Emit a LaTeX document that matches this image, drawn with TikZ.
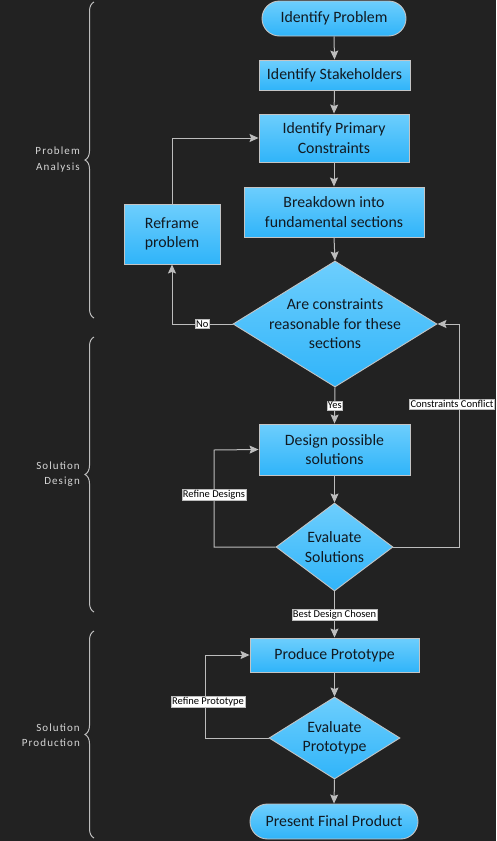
\documentclass[tikz,border=0pt]{standalone}
\usepackage{fontspec}
\setmainfont{Carlito}
\newfontfamily\phasefont[LetterSpace=10]{Carlito}
\usetikzlibrary{arrows.meta,shapes.geometric,shapes.misc,decorations.pathreplacing}

\definecolor{bgdark}{HTML}{222222}
\definecolor{boxtop}{HTML}{6DCEFD}
\definecolor{boxbot}{HTML}{30B4F9}
\definecolor{boxline}{HTML}{C4C4C4}
\definecolor{wire}{HTML}{BDBDBD}
\definecolor{boxtext}{HTML}{111A22}
\definecolor{phasetext}{HTML}{D6D6D6}

\tikzset{
  blockbase/.style={draw=boxline, line width=0.9pt, top color=boxtop, bottom color=boxbot,
    text=boxtext, font=\fontsize{15.8}{19.5}\selectfont, align=center, inner sep=0pt},
  procbox/.style={blockbase, rectangle},
  termbox/.style={blockbase, rounded rectangle},
  % negative inner sep keeps the diamond at its given size around multi-line text
  decbox/.style={blockbase, diamond, inner sep=-30pt},
  flow/.style={draw=wire, line width=1pt, -{Stealth[length=9pt,width=8pt,inset=1.5pt]}},
  elabel/.style={fill=white, draw=wire, line width=0.4pt, text=black, inner sep=1pt,
    font=\fontsize{10.5}{11}\selectfont},
  phasebrace/.style={draw=wire, line width=1pt, decorate,
    decoration={brace, amplitude=9pt}},
  phaselabel/.style={text=phasetext, align=right, anchor=east, inner sep=0pt,
    font=\phasefont\fontsize{11}{15.5}\selectfont},
}

\begin{document}
\begin{tikzpicture}[x=1pt, y=-1pt]
  \fill[bgdark] (0,0) rectangle (496,841);
  \useasboundingbox (0,0) rectangle (496,841);

  % ---- flow blocks ----
  \node[termbox, minimum width=144pt, minimum height=35pt] (ip) at (334,18.5) {Identify Problem};
  \node[procbox, minimum width=151pt, minimum height=30pt] (sh) at (334.5,75) {Identify Stakeholders};
  \node[procbox, minimum width=150pt, minimum height=48pt] (pc) at (334,138) {Identify Primary\\Constraints};
  \node[procbox, minimum width=180pt, minimum height=50pt] (bd) at (334,212) {Breakdown into\\fundamental sections};
  \node[procbox, minimum width=96pt, minimum height=60pt] (rf) at (172,234) {Reframe\\problem};
  \node[decbox, minimum width=204pt, minimum height=126pt] (d1) at (335,324) {Are constraints\\reasonable for these\\sections};
  \node[procbox, minimum width=151pt, minimum height=51pt] (ds) at (334.5,449.5) {Design possible\\solutions};
  \node[decbox, minimum width=117pt, minimum height=88pt] (es) at (334.5,547) {Evaluate\\Solutions};
  \node[procbox, minimum width=169pt, minimum height=34pt] (pp) at (334.5,655) {Produce Prototype};
  \node[decbox, minimum width=131pt, minimum height=82pt] (ep) at (334.5,738) {Evaluate\\Prototype};
  \node[termbox, minimum width=168pt, minimum height=35pt] (pf) at (334,821.5) {Present Final Product};

  % corner points of the loop-back connectors
  \coordinate (cx) at (459,324);
  \coordinate (rdx) at (214,450);
  \coordinate (rpx) at (205,655);

  % ---- connectors ----
  \draw[flow] (ip.south) -- (sh.north);
  \draw[flow] (sh.south) -- (pc.north);
  \draw[flow] (pc.south) -- (bd.north);
  \draw[flow] (bd.south) -- (d1.north);
  \draw[flow] (d1.west) -| node[elabel, pos=0.25] {No} (rf.south);
  \draw[flow] (rf.north) |- (pc.west);
  \draw[flow] (d1.south) -- node[elabel] {Yes} (ds.north);
  \draw[flow] (es.east) -| node[elabel, pos=0.82, xshift=-7pt] {Constraints Conflict} (cx) -- (d1.east);
  \draw[flow] (ds.south) -- (es.north);
  \draw[flow] (es.west) -| node[elabel, pos=0.77] {Refine Designs} (rdx) -- (ds.west);
  \draw[flow] (es.south) -- node[elabel] {Best Design Chosen} (pp.north);
  \draw[flow] (pp.south) -- (ep.north);
  \draw[flow] (ep.west) -| node[elabel, pos=0.72, xshift=3pt] {Refine Prototype} (rpx) -- (pp.west);
  \draw[flow] (ep.south) -- (pf.north);

  % ---- phase braces ----
  \coordinate (b1s) at (94,318);  \coordinate (b1e) at (94,2);
  \coordinate (b2s) at (94,612);  \coordinate (b2e) at (94,337);
  \coordinate (b3s) at (94,838);  \coordinate (b3e) at (94,631);
  \draw[phasebrace] (b1s) -- (b1e);
  \draw[phasebrace] (b2s) -- (b2e);
  \draw[phasebrace] (b3s) -- (b3e);
  \node[phaselabel] (pa) at (80,159.5) {Problem\\Analysis};
  \node[phaselabel] (sd) at (80,474) {Solution\\Design};
  \node[phaselabel] (sp) at (80,735) {Solution\\Production};
\end{tikzpicture}
\end{document}
